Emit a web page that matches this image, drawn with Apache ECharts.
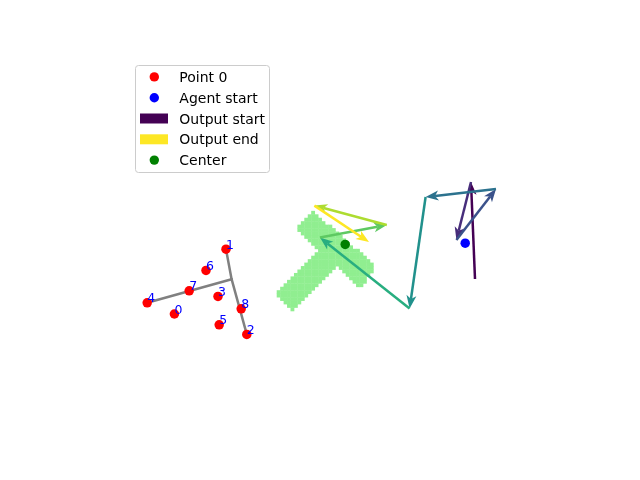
<!DOCTYPE html>
<html>
<head>
<meta charset="utf-8">
<script src="https://cdn.jsdelivr.net/npm/echarts@6/dist/echarts.min.js"></script>
<style>
html, body { margin: 0; padding: 0; background: #fff; }
#main { width: 640px; height: 480px; }
</style>
</head>
<body>
<div id="main"></div>
<script>
"use strict";
// red points and their labels
let pointX = [23.6, 36.5, 41.7, 34.5, 16.8, 34.8, 31.5, 27.3, 40.3];
let pointY = [27.0, 43.2, 21.9, 31.4, 29.8, 24.3, 37.9, 32.8, 28.3];
let pointLabels = ['0', '1', '2', '3', '4', '5', '6', '7', '8'];
// gray tree: one junction linked to these points
let junction = [37.9, 35.7];
let treeLinks = [4, 1, 2];
// output path, one arrow per step
let pathX = [98.75, 97.75, 94.1, 104.0, 86.4, 82.4, 60.0, 76.7, 58.6, 72.25];
let pathY = [35.75, 60.0, 45.5, 58.25, 56.25, 28.4, 46.1, 49.25, 54.1, 45.0];
let pathColors = ['#440154', '#472d7b', '#3b528b', '#2c728e', '#21918c', '#28ae80', '#5ec962', '#addc30', '#fde725'];
let agentStart = [96.3, 44.7];
let center = [66.3, 44.4];
// outline of the T shaped region (drawn as a coarse raster like the original mask)
let shapeX = [58.25, 74.0, 70.0, 64.25, 53.25, 49.0, 59.75, 53.75];
let shapeY = [52.75, 39.0, 33.25, 38.75, 28.0, 32.25, 42.75, 48.5];
let cellSize = 0.8625;
let cellOrigin = [49.175, 51.925];
// legend
let legendNames = ['Point 0', 'Agent start', 'Output start', 'Output end', 'Center'];
let legendColors = ['#ff0000', '#0000ff', '#440154', '#fde725', '#008000'];
let legendIcons = ['circle', 'circle', 'rect', 'rect', 'circle'];

let font = 'DejaVu Sans';
let myChart = echarts.init(document.getElementById('main'));

function insidePoly(x, y, pts) {
    let inside = false;
    for (let i = 0, j = pts.length - 1; i < pts.length; j = i++) {
        let xi = pts[i][0], yi = pts[i][1], xj = pts[j][0], yj = pts[j][1];
        if (((yi > y) !== (yj > y)) && (x < (xj - xi) * (y - yi) / (yj - yi) + xi)) {
            inside = !inside;
        }
    }
    return inside;
}

function renderShape(params, api) {
    let pts = [];
    for (let i = 0; i < shapeX.length; i++) {
        pts.push([shapeX[i], shapeY[i]]);
    }
    let minX = Math.min.apply(null, shapeX), maxX = Math.max.apply(null, shapeX);
    let minY = Math.min.apply(null, shapeY), maxY = Math.max.apply(null, shapeY);
    let children = [];
    let i0 = Math.floor((minX - cellOrigin[0]) / cellSize) - 1;
    let i1 = Math.ceil((maxX - cellOrigin[0]) / cellSize) + 1;
    let j0 = Math.floor((minY - cellOrigin[1]) / cellSize) - 1;
    let j1 = Math.ceil((maxY - cellOrigin[1]) / cellSize) + 1;
    for (let i = i0; i <= i1; i++) {
        for (let j = j0; j <= j1; j++) {
            let x = cellOrigin[0] + i * cellSize;
            let y = cellOrigin[1] + j * cellSize;
            if (!insidePoly(x + cellSize / 2, y + cellSize / 2, pts)) continue;
            let a = api.coord([x, y + cellSize]);
            let b = api.coord([x + cellSize, y]);
            children.push({
                type: 'rect',
                shape: { x: a[0], y: a[1], width: b[0] - a[0] + 0.4, height: b[1] - a[1] + 0.4 },
                style: { fill: '#90ee90' }
            });
        }
    }
    return { type: 'group', children: children };
}

function renderTree(params, api) {
    let j = api.coord(junction);
    let p = treeLinks[params.dataIndex];
    let a = api.coord([pointX[p], pointY[p]]);
    return {
        type: 'line',
        shape: { x1: j[0], y1: j[1], x2: a[0], y2: a[1] },
        style: { stroke: '#808080', lineWidth: 2.5, lineCap: 'round' }
    };
}

function renderArrow(params, api) {
    let i = params.dataIndex;
    let color = pathColors[i];
    let a = api.coord([pathX[i], pathY[i]]);
    let b = api.coord([pathX[i + 1], pathY[i + 1]]);
    let dx = b[0] - a[0], dy = b[1] - a[1];
    let len = Math.sqrt(dx * dx + dy * dy);
    let ux = dx / len, uy = dy / len;
    let headLen = 13, headW = 5, notch = 3.5;
    let bx = b[0] - ux * headLen, by = b[1] - uy * headLen;
    let nx = b[0] - ux * (headLen - notch), ny = b[1] - uy * (headLen - notch);
    return {
        type: 'group',
        children: [
            { type: 'line', shape: { x1: a[0], y1: a[1], x2: nx, y2: ny },
              style: { stroke: color, lineWidth: 2.5 } },
            { type: 'polygon',
              shape: { points: [[b[0], b[1]], [bx - uy * headW, by + ux * headW], [nx, ny], [bx + uy * headW, by - ux * headW]] },
              style: { fill: color } }
        ]
    };
}

function legendGraphic() {
    let children = [{
        type: 'rect',
        shape: { x: 135.5, y: 65.5, width: 134, height: 107, r: 3 },
        style: { fill: 'rgba(255,255,255,0.8)', stroke: '#cccccc', lineWidth: 1 }
    }];
    for (let i = 0; i < legendNames.length; i++) {
        let cy = 76.9 + i * 20.8;
        if (legendIcons[i] === 'rect') {
            children.push({ type: 'rect', shape: { x: 140, y: cy - 5, width: 28, height: 10 },
                            style: { fill: legendColors[i] } });
        } else {
            children.push({ type: 'circle', shape: { cx: 154.3, cy: cy, r: 4.7 },
                            style: { fill: legendColors[i] } });
        }
        children.push({ type: 'text', x: 179.3, y: cy + 1.5,
                        style: { text: legendNames[i], fill: '#000', font: '14px "' + font + '"',
                                 textAlign: 'left', textVerticalAlign: 'middle' } });
    }
    return [{ type: 'group', children: children }];
}

let pointData = [];
for (let i = 0; i < pointX.length; i++) {
    pointData.push([pointX[i], pointY[i]]);
}

let option = {
    animation: false,
    backgroundColor: '#ffffff',
    textStyle: { fontFamily: font },
    grid: { left: 80, top: 58, width: 496, height: 364 },
    xAxis: { type: 'value', min: 0, max: 124, show: false },
    yAxis: { type: 'value', min: 0, max: 91, show: false },
    graphic: legendGraphic(),
    series: [
        {
            type: 'custom', z: 1, silent: true,
            renderItem: renderShape,
            data: [[shapeX[0], shapeY[0]]]
        },
        {
            type: 'custom', z: 2, silent: true,
            renderItem: renderTree,
            data: treeLinks.map(p => [pointX[p], pointY[p]])
        },
        {
            type: 'custom', z: 3, silent: true,
            renderItem: renderArrow,
            data: pathColors.map((c, i) => [pathX[i], pathY[i]])
        },
        {
            name: 'Point 0', type: 'scatter', z: 4,
            symbol: 'circle', symbolSize: 9.5,
            itemStyle: { color: '#ff0000', opacity: 1 },
            label: {
                show: true,
                formatter: p => pointLabels[p.dataIndex],
                position: [4.75, 7.5],
                align: 'left', verticalAlign: 'bottom',
                color: '#0000ff', fontSize: 12.5, fontFamily: font
            },
            data: pointData
        },
        {
            name: 'Agent start', type: 'scatter', z: 4,
            symbolSize: 9.5, itemStyle: { color: '#0000ff', opacity: 1 },
            data: [agentStart]
        },
        {
            name: 'Center', type: 'scatter', z: 4,
            symbolSize: 9.5, itemStyle: { color: '#008000', opacity: 1 },
            data: [center]
        }
    ]
};
myChart.setOption(option);
</script>
</body>
</html>
